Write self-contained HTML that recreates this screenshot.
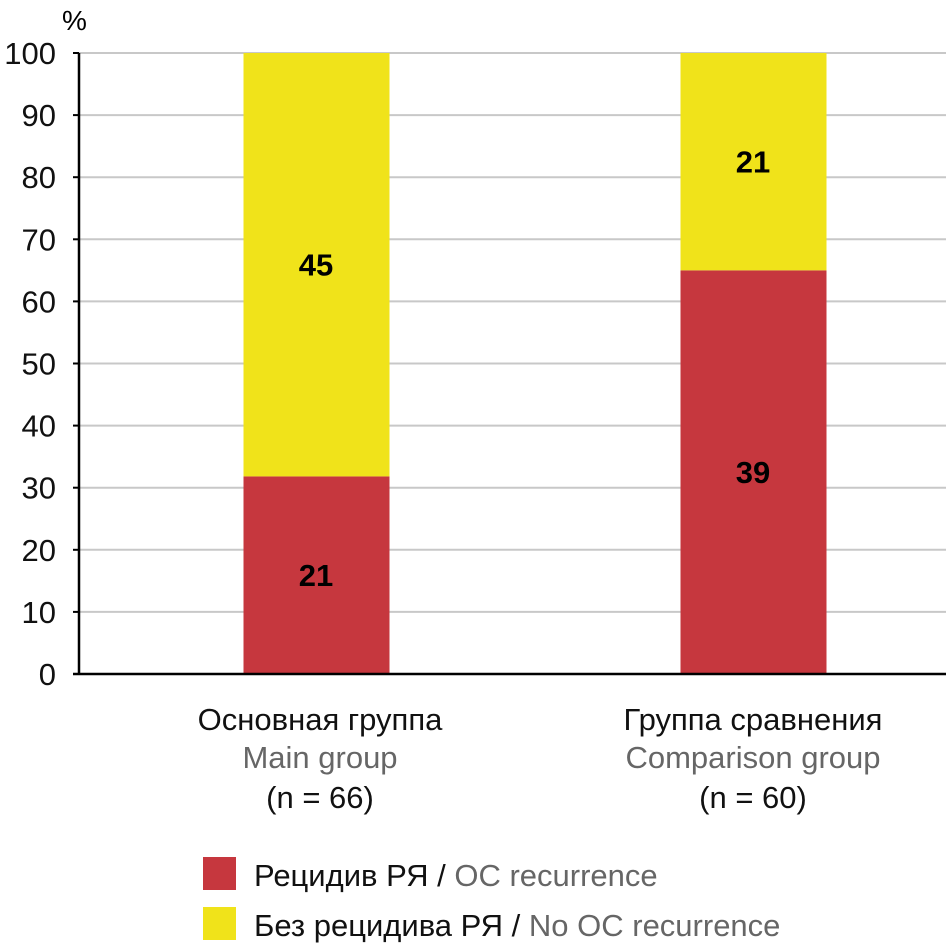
<!DOCTYPE html>
<html><head><meta charset="utf-8"><style>
html,body{margin:0;padding:0;background:#fff;}
svg text{font-family:"Liberation Sans Narrow","Liberation Sans",sans-serif;}
</style></head><body>
<svg id="chart" width="946" height="945" xmlns="http://www.w3.org/2000/svg">
<g id="grid"></g>
<g id="bars"></g>
<g id="axis"></g>
<text x="62" y="30" font-size="28">%</text>
<g font-size="31" text-anchor="middle">
<text x="320" y="730" fill="#111">Основная группа</text>
<text x="320" y="768" fill="#666">Main group</text>
<text x="320" y="808" fill="#111">(n = 66)</text>
<text x="753" y="730" fill="#111">Группа сравнения</text>
<text x="753" y="768" fill="#666">Comparison group</text>
<text x="753" y="808" fill="#111">(n = 60)</text>
</g>
<g font-size="31">
<rect x="203" y="857" width="33" height="33" fill="#c6373e"/>
<text x="254" y="886"><tspan fill="#111">Рецидив РЯ / </tspan><tspan fill="#666">OC recurrence</tspan></text>
<rect x="203" y="907" width="33" height="33" fill="#f0e31a"/>
<text x="254" y="936"><tspan fill="#111">Без рецидива РЯ / </tspan><tspan fill="#666">No OC recurrence</tspan></text>
</g>
</svg>
<script>
const categories=["Основная группа","Группа сравнения"];
const recurrenceCounts=[21,39];
const noRecurrenceCounts=[45,21];
const ticks=[0,10,20,30,40,50,60,70,80,90,100];
const NS="http://www.w3.org/2000/svg";
const y0=674,y100=53,axX=79,bw=146;
const centers=[316,753];
function y(v){return y0-(y0-y100)*v/100;}
function mk(p,t,a){const e=document.createElementNS(NS,t);for(const k in a)e.setAttribute(k,a[k]);p.appendChild(e);return e;}
const grid=document.getElementById('grid'),axis=document.getElementById('axis'),bars=document.getElementById('bars');
ticks.forEach(t=>{
 if(t>0){const g=mk(grid,'line',{x1:axX,x2:946,y1:y(t),y2:y(t),stroke:'#c8c8c8','stroke-width':2});
 
 }
 const tk=mk(axis,'line',{x1:73,x2:axX,y1:y(t),y2:y(t),stroke:'#000','stroke-width':2});
 
 
 const lb=mk(axis,'text',{x:56,y:y(t)+11,'font-size':31,'text-anchor':'end',fill:'#111'});
 lb.textContent=t;
 
 
});
const al=mk(axis,'line',{x1:axX,x2:axX,y1:y100,y2:y0+1,stroke:'#000','stroke-width':2.5});


const bl=mk(axis,'line',{x1:73,x2:946,y1:y0,y2:y0,stroke:'#000','stroke-width':2.5});


categories.forEach((c,i)=>{
 const tot=recurrenceCounts[i]+noRecurrenceCounts[i];
 const pr=recurrenceCounts[i]/tot*100;
 const x=centers[i]-bw/2+0.5;
 const r=mk(bars,'rect',{x:x,y:y(pr),width:bw,height:y0-y(pr),fill:'#c6373e'});
 
 
 const yl=mk(bars,'rect',{x:x,y:y(100),width:bw,height:y(pr)-y(100),fill:'#f0e31a'});
 
 
 const t1=mk(bars,'text',{x:centers[i],y:(y(pr)+y0)/2+11,'font-size':31,'font-weight':'bold','text-anchor':'middle',fill:'#000'});
 t1.textContent=recurrenceCounts[i];
 
 
 const t2=mk(bars,'text',{x:centers[i],y:(y(pr)+y(100))/2+11,'font-size':31,'font-weight':'bold','text-anchor':'middle',fill:'#000'});
 t2.textContent=noRecurrenceCounts[i];
 
 
});
</script>
</body></html>
